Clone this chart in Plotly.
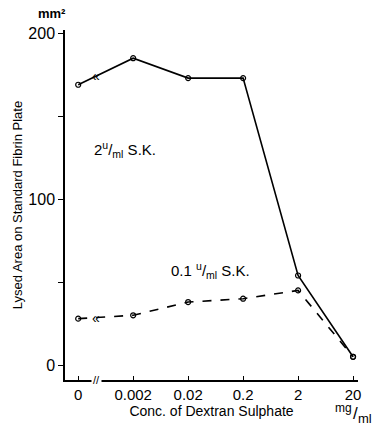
import plotly.graph_objects as go

categories = ["0", "0.002", "0.02", "0.2", "2", "20"]
sk_2u = [169, 185, 173, 173, 54, 5]
sk_01u = [28, 30, 38, 40, 45, 5]
y_tick_vals = [0, 50, 100, 150, 200]
y_tick_text = ["0", "", "100", "", "200"]

xpos = list(range(len(categories)))
FONT = "Liberation Sans, Arial, sans-serif"

fig = go.Figure()
fig.add_trace(go.Scatter(
    x=xpos, y=sk_2u, mode="lines+markers",
    line=dict(color="black", width=1.6),
    marker=dict(symbol="circle-open", size=5, color="black", line=dict(width=1.2)),
    showlegend=False))
fig.add_trace(go.Scatter(
    x=xpos, y=sk_01u, mode="lines+markers",
    line=dict(color="black", width=1.6, dash="dash"),
    marker=dict(symbol="circle-open", size=5, color="black", line=dict(width=1.2)),
    showlegend=False))

# break marks on lines between "0" and "0.002"
bx = 0.33
for s in (sk_2u, sk_01u):
    by = s[0] + bx * (s[1] - s[0])
    fig.add_annotation(x=bx, y=by, text="«", showarrow=False,
                       font=dict(family=FONT, size=14, color="black"))

fig.add_annotation(x=bx, y=-9, yref="y", text="//", showarrow=False,
                   bgcolor="white", font=dict(family=FONT, size=11, color="black"))

fig.add_annotation(x=0.85, y=130, text="2<sup>u</sup>/<sub>ml</sub> S.K.", showarrow=False,
                   font=dict(family=FONT, size=15, color="black"))
fig.add_annotation(x=2.4, y=57, text="0.1 <sup>u</sup>/<sub>ml</sub> S.K.", showarrow=False,
                   font=dict(family=FONT, size=15, color="black"))
fig.add_annotation(xref="paper", yref="paper", x=-0.045, y=1.02, xanchor="center", yanchor="bottom",
                   text="<b>mm²</b>", showarrow=False, font=dict(family=FONT, size=13, color="black"))
# unit "mg/ml" built from pieces
fig.add_annotation(xref="paper", yref="paper", x=0.949, y=-0.081, xanchor="center", yanchor="middle",
                   text="mg", showarrow=False, font=dict(family=FONT, size=12, color="black"))
fig.add_annotation(xref="paper", yref="paper", x=0.99, y=-0.096, xanchor="center", yanchor="middle",
                   text="/", showarrow=False, font=dict(family=FONT, size=17, color="black"))
fig.add_annotation(xref="paper", yref="paper", x=1.025, y=-0.11, xanchor="center", yanchor="middle",
                   text="ml", showarrow=False, font=dict(family=FONT, size=13, color="black"))

fig.update_layout(
    width=378, height=427,
    margin=dict(l=65, r=20, t=30, b=47),
    paper_bgcolor="white", plot_bgcolor="white",
    font=dict(family=FONT, size=15, color="black"),
    xaxis=dict(range=[-0.24, 5.09], tickvals=xpos, ticktext=categories, automargin=False,
               showline=True, linecolor="black", linewidth=1.5, showgrid=False, zeroline=False,
               ticks="inside", ticklen=4, tickcolor="black", tickfont=dict(size=15),
               title=dict(text="Conc. of Dextran Sulphate", standoff=1, font=dict(size=14))),
    yaxis=dict(range=[-9, 202], tickvals=y_tick_vals, ticktext=y_tick_text, automargin=False,
               showline=True, linecolor="black", linewidth=1.5, showgrid=False, zeroline=False,
               ticks="outside", ticklen=5, tickcolor="black", tickfont=dict(size=16),
               title=dict(text="Lysed Area on Standard Fibrin Plate", standoff=3, font=dict(size=13))),
)

fig.write_html("out.html", config={"displayModeBar": False},
               post_script="document.body.style.margin='0';document.body.style.overflow='hidden';")
